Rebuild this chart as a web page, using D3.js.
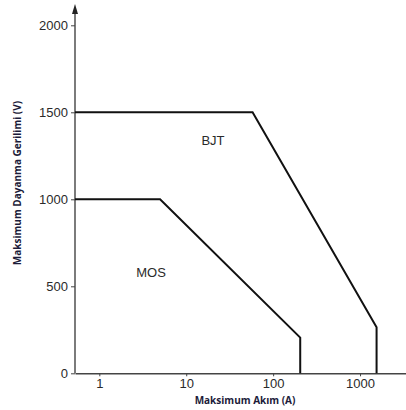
<!DOCTYPE html>
<html>
<head>
<meta charset="utf-8">
<script src="https://cdn.jsdelivr.net/npm/d3@7"></script>
<style>
  html, body { margin: 0; padding: 0; background: #fff; }
  svg { display: block; }
</style>
</head>
<body>
<svg id="chart" width="406" height="410"></svg>
<script>
// SOA boundaries (current in A, voltage in V)
const bjtCurrent = [0.525, 58, 1550, 1550];
const bjtVoltage = [1500, 1500, 265, 0];
const mosCurrent = [0.525, 5, 205, 205];
const mosVoltage = [1000, 1000, 205, 0];

const xTicks = [1, 10, 100, 1000];
const yTicks = [0, 500, 1000, 1500, 2000];

const svg = d3.select('#chart');

const x = d3.scaleLog().domain([0.525, 3380]).range([75, 406]);
const y = d3.scaleLinear().domain([0, 2000]).range([373.3, 25.3]);

// x axis
const xAxis = svg.append('g')
  .attr('transform', `translate(0,${y(0)})`)
  .call(d3.axisBottom(x).tickValues(xTicks).tickFormat(d3.format('d')).tickSize(3).tickSizeOuter(0));
xAxis.select('.domain').attr('stroke', '#444').attr('stroke-width', 1.4);
xAxis.selectAll('.tick line').attr('stroke', '#444');
xAxis.selectAll('.tick text')
  .attr('y', 5)
  .attr('dy', '0.71em')
  .attr('font-family', 'Liberation Sans, Arial, sans-serif')
  .attr('font-size', 13)
  .attr('fill', '#2a2a2a');

// y axis
const yAxis = svg.append('g')
  .attr('transform', `translate(${x(0.525)},0)`)
  .call(d3.axisLeft(y).tickValues(yTicks).tickFormat(d3.format('d')).tickSize(4).tickSizeOuter(0));
yAxis.select('.domain').remove();
yAxis.selectAll('.tick line').attr('stroke', '#444');
yAxis.selectAll('.tick text')
  .attr('x', -7)
  .attr('font-family', 'Liberation Sans, Arial, sans-serif')
  .attr('font-size', 13)
  .attr('fill', '#2a2a2a');

// y axis line with arrow
svg.append('line')
  .attr('x1', x(0.525)).attr('x2', x(0.525))
  .attr('y1', y(0)).attr('y2', 12)
  .attr('stroke', '#444').attr('stroke-width', 1.4);
svg.append('path')
  .attr('d', `M${x(0.525)},4 L${x(0.525) - 3},14 L${x(0.525) + 3},14 Z`)
  .attr('fill', '#222');

const line = d3.line()
  .x(d => x(d[0]))
  .y(d => y(d[1]));

svg.append('path')
  .datum(bjtCurrent.map((c, i) => [c, bjtVoltage[i]]))
  .attr('d', line)
  .attr('fill', 'none')
  .attr('stroke', '#111')
  .attr('stroke-width', 2);

svg.append('path')
  .datum(mosCurrent.map((c, i) => [c, mosVoltage[i]]))
  .attr('d', line)
  .attr('fill', 'none')
  .attr('stroke', '#111')
  .attr('stroke-width', 2);

// region labels
svg.append('text')
  .attr('x', 213).attr('y', 145)
  .attr('text-anchor', 'middle')
  .attr('font-family', 'Liberation Sans, Arial, sans-serif')
  .attr('font-size', 13)
  .attr('fill', '#2a2a2a')
  .text('BJT');
svg.append('text')
  .attr('x', 151).attr('y', 277)
  .attr('text-anchor', 'middle')
  .attr('font-family', 'Liberation Sans, Arial, sans-serif')
  .attr('font-size', 13)
  .attr('fill', '#2a2a2a')
  .text('MOS');

// axis titles
svg.append('text')
  .attr('x', 245).attr('y', 404)
  .attr('text-anchor', 'middle')
  .attr('font-family', 'Open Sans, sans-serif')
  .attr('font-weight', 'bold')
  .attr('font-size', 10)
  .attr('fill', '#1c1c3a')
  .text('Maksimum Akım (A)');
svg.append('text')
  .attr('transform', 'translate(21,183) rotate(-90)')
  .attr('text-anchor', 'middle')
  .attr('font-family', 'Open Sans, sans-serif')
  .attr('font-weight', 'bold')
  .attr('font-size', 10)
  .attr('fill', '#1c1c3a')
  .text('Maksimum Dayanma Gerilimi (V)');
</script>
</body>
</html>
